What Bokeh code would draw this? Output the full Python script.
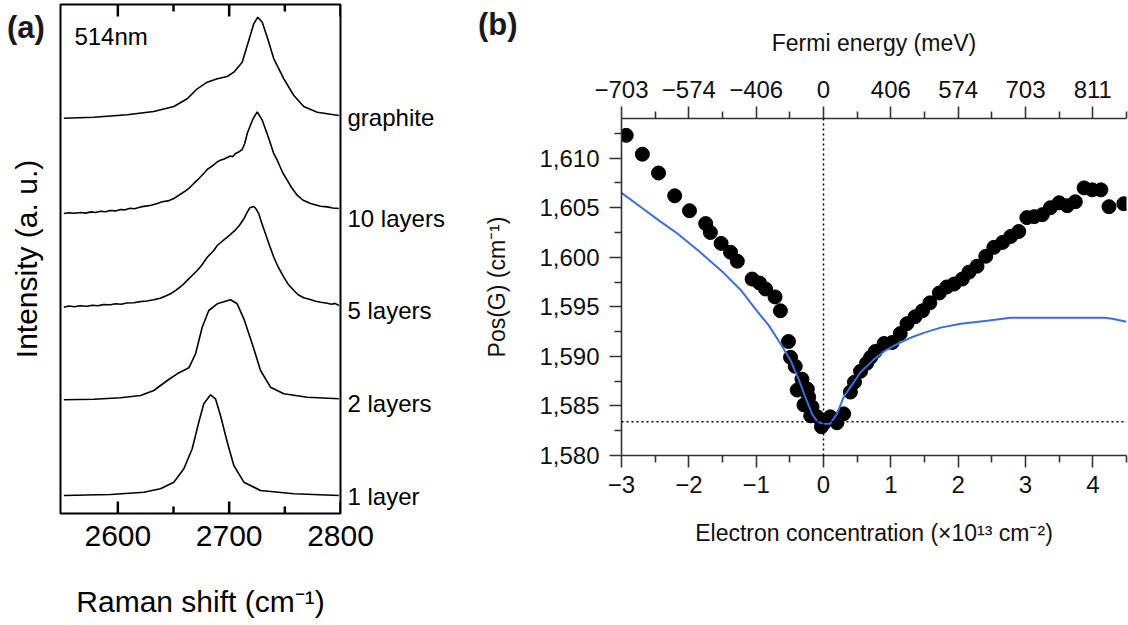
from bokeh.plotting import figure
from bokeh.layouts import row, column
from bokeh.models import Range1d, LinearAxis, FixedTicker, Label, Span, NumeralTickFormatter, Div
from bokeh.embed import file_html
from bokeh.resources import INLINE

# ---------------- Panel (a): 2D Raman band, 514 nm ----------------
g_x = [2551.5, 2578.4, 2608.4, 2632.3, 2650.3, 2662.3, 2671.3, 2680.3, 2689.3, 2698.3, 2704.2,
       2711.7, 2717.6, 2722.1, 2725.7, 2729.7, 2734.2, 2740.1, 2749.1, 2758.1, 2767.0, 2779.1, 2798.5]
g_y = [0.3, 1.3, 3.7, 7, 12, 19.7, 29.7, 36.3, 39.7, 42, 46.3,
       56.3, 78, 94.7, 101.3, 96.3, 81.3, 59.7, 39.7, 23, 12, 6.3, 3]

l10_x = [2551.5, 2556, 2561, 2566.5, 2571, 2576, 2580, 2584.5, 2589, 2593, 2598, 2602.4, 2606, 2611,
         2615, 2620.4, 2625, 2630, 2635.4, 2640, 2645, 2650.3, 2655, 2658, 2660.8, 2664, 2668, 2671.3,
         2675, 2678, 2680.3, 2683, 2686, 2689.3, 2692, 2695, 2698.3, 2701, 2703, 2705.7, 2708, 2711.7,
         2714, 2716.2, 2719, 2721.6, 2725.2, 2729.7, 2735.6, 2740, 2743.2, 2748, 2752.1, 2756, 2761.1,
         2766, 2773.1, 2778, 2782, 2788.1, 2793, 2798.5]
l10_y = [0, 0.8, 0.2, 1, 0.4, 1.6, 1.0, 2.3, 1.8, 3.0, 2.6, 4, 3.6, 5.2,
         4.8, 6.6, 7.4, 8.2, 10, 11.8, 12.6, 15, 18.4, 20.5, 22.6, 25.4, 29.8, 33.3,
         37.5, 41.0, 44, 46.2, 48.5, 51.6, 53.2, 54.2, 56, 57.5, 56.8, 60, 61.2, 64,
         70, 80, 88, 95, 101.6, 93.3, 75, 60, 53.3, 41, 33.3, 26, 18.3,
         13.5, 10, 8.5, 7.2, 6.6, 5.5, 5]

l5_x = [2551.5, 2556, 2561, 2566, 2572.5, 2577, 2582, 2587, 2593.4, 2598, 2603, 2608, 2614.4, 2620,
        2626, 2632.3, 2638, 2643, 2647.3, 2652, 2656, 2659.3, 2663, 2667, 2671.3, 2675, 2680.3, 2684,
        2686, 2689.3, 2692, 2695, 2698.3, 2701, 2703, 2705.7, 2709, 2713.2, 2716, 2718.5, 2722.1, 2724,
        2726.6, 2729, 2732.6, 2736, 2740.1, 2744, 2749.1, 2753, 2758.1, 2762, 2767.0, 2772, 2777,
        2782.0, 2787, 2792, 2795, 2798.5]
l5_y = [0, 1.2, 0.4, 1.5, 1, 2.0, 1.4, 2.6, 2.4, 3.4, 3.0, 4.2, 4.4, 5.6,
        6.2, 7.4, 9.0, 11.2, 13.4, 16.8, 20.2, 23.4, 27.6, 32.0, 36.7, 41.5, 50, 54.2,
        56.5, 61.7, 64.2, 67.0, 70, 72.5, 74.6, 77.4, 81.5, 88.4, 94.5, 99.4, 100.7, 98.5,
        93.4, 85, 73.4, 62.5, 50, 40.2, 30, 23.0, 16.7, 12.4, 9.4, 8.0, 6.2,
        5, 4.2, 3.0, 3.8, 1.7]

l2_x = [2551.5, 2578.4, 2602.4, 2620.4, 2632.3, 2644.4, 2653.3, 2663.8, 2669.8, 2675.8, 2681.7,
        2689.3, 2701.2, 2707.2, 2713.2, 2720.7, 2728.2, 2737.1, 2749.1, 2770.1, 2798.5]
l2_y = [0, 0.6, 2, 4.3, 9.3, 19.3, 26, 32, 46, 72.6, 89.3,
        96, 100, 96, 81, 56, 29.3, 12.6, 6, 2.6, 1]

l1_x = [2551.5, 2593.4, 2623.4, 2638.3, 2650.3, 2659.3, 2666.8, 2672.7, 2677.2, 2683.3, 2687.7,
        2692.2, 2698.3, 2704.2, 2713.2, 2728.2, 2758.1, 2798.5]
l1_y = [0, 1, 3.3, 6.7, 13.3, 26.7, 46.7, 73.3, 91.7, 100.7, 96.7,
        80, 53.3, 30, 13.3, 5, 1.7, 0]

spectra_x = [g_x, l10_x, l5_x, l2_x, l1_x]
spectra_y = [g_y, l10_y, l5_y, l2_y, l1_y]
spectra_offsets = [395, 300, 206.3, 113.7, 18]
sample_names = ["graphite", "10 layers", "5 layers", "2 layers", "1 layer"]
sample_label_pos = [396, 295, 203, 110, 17]

raman_ticks = [2600, 2700, 2800]
raman_minor = [2650, 2750]
A_YMAX = 509
MAJOR_LEN = 12
MINOR_LEN = 7

FA = "Liberation Sans"
FB = "Liberation Sans"

pa = figure(width=480, height=625, x_range=Range1d(2548.5, 2800), y_range=Range1d(0, A_YMAX),
            output_backend="svg", toolbar_location=None,
            min_border_left=60, min_border_right=140, min_border_top=4, min_border_bottom=112)
pa.grid.visible = False
pa.outline_line_color = "black"
pa.outline_line_width = 2
pa.background_fill_color = "white"
pa.border_fill_color = "white"

for xs, ys, off in zip(spectra_x, spectra_y, spectra_offsets):
    pa.line(xs, [y + off for y in ys], line_color="black", line_width=1.6)

# inward ticks along the top and bottom edges of the frame (1 data unit = 1 px vertically)
pa.segment(x0=list(raman_ticks), y0=[A_YMAX for _ in raman_ticks], x1=list(raman_ticks),
           y1=[A_YMAX - MAJOR_LEN for _ in raman_ticks], line_color="black", line_width=2.5)
pa.segment(x0=list(raman_minor), y0=[A_YMAX for _ in raman_minor], x1=list(raman_minor),
           y1=[A_YMAX - MINOR_LEN for _ in raman_minor], line_color="black", line_width=2.5)
pa.segment(x0=list(raman_ticks), y0=[0 for _ in raman_ticks], x1=list(raman_ticks),
           y1=[MAJOR_LEN for _ in raman_ticks], line_color="black", line_width=2.5)
pa.segment(x0=list(raman_minor), y0=[0 for _ in raman_minor], x1=list(raman_minor),
           y1=[MINOR_LEN for _ in raman_minor], line_color="black", line_width=2.5)

xa = pa.xaxis[0]
xa.ticker = FixedTicker(ticks=raman_ticks, minor_ticks=raman_minor)
xa.axis_line_color = None
xa.major_tick_in = 0
xa.major_tick_out = 0
xa.minor_tick_in = 0
xa.minor_tick_out = 0
xa.major_tick_line_color = None
xa.minor_tick_line_color = None
xa.major_label_text_font = FA
xa.major_label_text_font_size = "30px"
xa.major_label_text_color = "black"
xa.major_label_standoff = 12
xa.axis_label = "Raman shift (cm⁻¹)"
xa.axis_label_text_font = FA
xa.axis_label_text_font_size = "30px"
xa.axis_label_text_font_style = "normal"
xa.axis_label_text_color = "black"
xa.axis_label_standoff = 36

ya = pa.yaxis[0]
ya.ticker = FixedTicker(ticks=[])
ya.axis_line_color = None
ya.major_tick_line_color = None
ya.minor_tick_line_color = None
ya.axis_label = "Intensity (a. u.)"
ya.axis_label_text_font = FA
ya.axis_label_text_font_size = "30px"
ya.axis_label_text_font_style = "normal"
ya.axis_label_text_color = "black"
ya.axis_label_standoff = 18

right_a = LinearAxis(ticker=FixedTicker(ticks=sample_label_pos),
                     major_label_overrides={p: n for p, n in zip(sample_label_pos, sample_names)})
right_a.axis_line_color = None
right_a.major_tick_line_color = None
right_a.minor_tick_line_color = None
right_a.major_label_text_font = FA
right_a.major_label_text_font_size = "24px"
right_a.major_label_text_color = "black"
right_a.major_label_standoff = 1
pa.add_layout(right_a, "right")

pa.add_layout(Label(x=2561, y=477, text="514nm", text_font=FA, text_font_size="24px",
                    text_baseline="middle", text_color="black"))

# ---------------- Panel (b): G peak position vs doping ----------------
n_exp = [-2.93, -2.69, -2.45, -2.21, -1.99, -1.75, -1.68, -1.52, -1.38, -1.28, -1.06, -0.95, -0.86,
         -0.72, -0.64, -0.52, -0.49, -0.42, -0.32, -0.39, -0.24, -0.22, -0.29, -0.17, -0.19, -0.09,
         -0.03, 0.00, 0.10, 0.20, 0.30, 0.40, 0.46, 0.55, 0.64, 0.70, 0.77, 0.90, 1.02, 1.14, 1.24,
         1.36, 1.47, 1.58, 1.72, 1.83, 1.94, 2.06, 2.16, 2.28, 2.41, 2.53, 2.66, 2.78, 2.90, 3.02,
         3.13, 3.25, 3.37, 3.50, 3.62, 3.74, 3.87, 3.99, 4.12, 4.24, 4.46]
posg_exp = [1612.3, 1610.4, 1608.5, 1606.2, 1604.7, 1603.4, 1602.5, 1601.4, 1600.5, 1599.6, 1597.8,
            1597.4, 1596.8, 1596.0, 1594.6, 1591.5, 1589.9, 1589.0, 1587.7, 1586.6, 1586.7, 1585.9,
            1585.1, 1584.9, 1584.0, 1583.9, 1582.9, 1583.2, 1583.9, 1583.3, 1584.2, 1586.4, 1587.4,
            1588.5, 1589.3, 1589.9, 1590.5, 1591.3, 1591.4, 1592.3, 1593.3, 1594.0, 1594.6, 1595.4,
            1596.4, 1597.0, 1597.3, 1597.8, 1598.5, 1599.1, 1600.1, 1601.0, 1601.5, 1602.1, 1602.6,
            1604.0, 1604.1, 1604.3, 1605.0, 1605.5, 1605.2, 1605.6, 1607.0, 1606.8, 1606.8, 1605.1,
            1605.4]

n_th = [-3.0, -2.72, -2.42, -2.17, -1.83, -1.48, -1.23, -0.99, -0.81, -0.64, -0.49, -0.37, -0.27,
        -0.17, -0.09, 0.0, 0.10, 0.20, 0.30, 0.40, 0.55, 0.75, 0.92, 1.14, 1.30, 1.50, 1.74, 2.04,
        2.43, 2.78, 3.42, 4.17, 4.29, 4.5]
posg_th = [1606.5, 1605.1, 1603.6, 1602.4, 1600.5, 1598.4, 1596.7, 1594.6, 1593.1, 1591.3, 1589.6,
           1587.7, 1585.9, 1584.2, 1583.4, 1583.2, 1583.2, 1584.2, 1585.9, 1586.9, 1588.4, 1589.7,
           1590.6, 1591.4, 1591.9, 1592.4, 1592.9, 1593.3, 1593.6, 1593.9, 1593.9, 1593.9, 1593.8,
           1593.5]

dirac_n = 0
posg_undoped = 1583.4

conc_ticks = [-3, -2, -1, 0, 1, 2, 3, 4]
conc_minor = [-2.5, -1.5, -0.5, 0.5, 1.5, 2.5, 3.5, 4.5]
fermi_labels = ["−703", "−574", "−406", "0", "406", "574", "703", "811"]
posg_ticks = [1580, 1585, 1590, 1595, 1600, 1605, 1610]
posg_minor = [1582.5, 1587.5, 1592.5, 1597.5, 1602.5, 1607.5, 1612.5]

pb = figure(width=648, height=625, x_range=Range1d(-3, 4.5), y_range=Range1d(1580, 1614),
            output_backend="svg", toolbar_location=None,
            min_border_left=141, min_border_right=2, min_border_top=118, min_border_bottom=170)
pb.grid.visible = False
pb.outline_line_color = None
pb.background_fill_color = "white"
pb.border_fill_color = "white"

pb.add_layout(Span(location=dirac_n, dimension="height", line_color="black",
                   line_dash="2 3", line_width=1.5))
pb.add_layout(Span(location=posg_undoped, dimension="width", line_color="black",
                   line_dash="2 3", line_width=1.5))

pb.scatter(n_exp, posg_exp, size=14, fill_color="black", line_color="black")
pb.line(n_th, posg_th, line_color="#3a6ee0", line_width=2)

AX = "#333333"

def style_b(ax):
    ax.axis_line_color = AX
    ax.axis_line_width = 1.6
    ax.major_tick_line_color = AX
    ax.minor_tick_line_color = AX
    ax.major_tick_line_width = 1.6
    ax.minor_tick_line_width = 1.6
    ax.major_tick_in = 0
    ax.major_tick_out = 12
    ax.minor_tick_in = 0
    ax.minor_tick_out = 7
    ax.major_label_text_font = FB
    ax.major_label_text_font_size = "24px"
    ax.major_label_text_color = "#111111"
    ax.axis_label_text_font = FB
    ax.axis_label_text_font_size = "23px"
    ax.axis_label_text_font_style = "normal"
    ax.axis_label_text_color = "#111111"

bx = pb.xaxis[0]
bx.ticker = FixedTicker(ticks=conc_ticks, minor_ticks=conc_minor)
bx.major_label_overrides = {t: (str(t).replace("-", "−")) for t in conc_ticks}
style_b(bx)
bx.major_label_standoff = 8
bx.axis_label = "Electron concentration (×10¹³ cm⁻²)"
bx.axis_label_standoff = 24

top_b = LinearAxis(ticker=FixedTicker(ticks=conc_ticks, minor_ticks=conc_minor),
                   major_label_overrides={t: l for t, l in zip(conc_ticks, fermi_labels)})
style_b(top_b)
top_b.major_label_standoff = 9
top_b.axis_label = "Fermi energy (meV)"
top_b.axis_label_standoff = 22
pb.add_layout(top_b, "above")

by = pb.yaxis[0]
by.ticker = FixedTicker(ticks=posg_ticks, minor_ticks=posg_minor)
by.formatter = NumeralTickFormatter(format="0,0")
style_b(by)
by.major_label_standoff = 10
by.axis_label = "Pos(G) (cm⁻¹)"
by.axis_label_standoff = 26

# panel letters, overlaid on the top-left corner of each panel
PANEL_STYLE = "font-family:'Liberation Sans';font-weight:bold;font-size:31px;color:#1a1a1a;line-height:1"
div_a = Div(text=f'<span style="{PANEL_STYLE}">(a)</span>',
            styles={"position": "absolute", "left": "2px", "top": "7px", "z-index": "10"})
div_b = Div(text=f'<span style="{PANEL_STYLE}">(b)</span>',
            styles={"position": "absolute", "left": "-7px", "top": "4px", "z-index": "10"})

layout = row(column(pa, div_a), column(pb, div_b))
open("out.html", "w").write(file_html(layout, INLINE))
